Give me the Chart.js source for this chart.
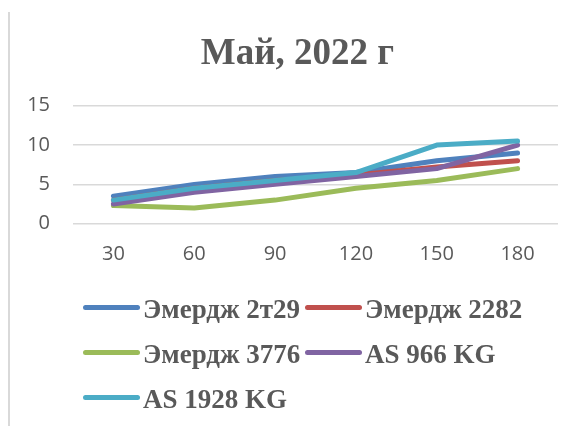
<!DOCTYPE html>
<html>
<head>
<meta charset="utf-8">
<script src="https://cdn.jsdelivr.net/npm/chart.js@4/dist/chart.umd.min.js"></script>
<style>
  html, body { margin: 0; padding: 0; background: #ffffff; }
  #wrap { position: relative; width: 581px; height: 426px; overflow: hidden; }
  #frame { position: absolute; left: 8px; top: 12px; bottom: 0; width: 2px; background: #d9d9d9; }
  canvas { position: absolute; left: 0; top: 0; }
  #title { position: absolute; left: 197.5px; top: 33.3px; width: 200px; text-align: center;
           white-space: nowrap; font-family: "Liberation Serif", "Times New Roman", serif;
           font-weight: bold; font-size: 37px; line-height: 37px; color: #595959; }
  #legend { position: absolute; left: 83px; top: 285px; width: 490px;
            font-family: "Liberation Serif", "Times New Roman", serif; font-weight: bold;
            font-size: 27px; color: #595959; }
  .row { display: flex; align-items: center; height: 45px; }
  .item { display: flex; align-items: center; white-space: nowrap; }
  .item.c1 { width: 222px; }
  .swatch { width: 57px; height: 5px; border-radius: 3px; margin-right: 3px; }
  .label { line-height: 30px; position: relative; top: 1px; }
</style>
</head>
<body>
<div id="wrap">
  <div id="frame"></div>
  <canvas id="chart" width="581" height="426"></canvas>
  <div id="title"></div>
  <div id="legend"></div>
</div>
<script>
// Days after sowing
const categories = ['30', '60', '90', '120', '150', '180'];

// Measured values per variety
const emerdzh2t29 = [3.5, 5, 6, 6.5, 8, 9];
const emerdzh2282 = [3, 4.5, 5.5, 6.2, 7.2, 8];
const emerdzh3776 = [2.3, 2, 3, 4.5, 5.5, 7];
const as966kg     = [2.5, 4, 5, 6, 7, 10];
const as1928kg    = [3, 4.5, 5.5, 6.5, 10, 10.5];

const seriesNames = ['Эмердж 2т29', 'Эмердж 2282', 'Эмердж 3776', 'AS 966 KG', 'AS 1928 KG'];
const seriesValues = [emerdzh2t29, emerdzh2282, emerdzh3776, as966kg, as1928kg];

// Axis ticks
const yTicks = [0, 5, 10, 15];

const chartTitle = 'Май, 2022 г';

const palette = ['#4F81BD', '#C0504D', '#9BBB59', '#8064A2', '#4BACC6'];

const datasets = seriesNames.map((name, i) => ({
  label: name,
  data: seriesValues[i],
  borderColor: palette[i],
  backgroundColor: palette[i],
  borderWidth: 5,
  borderCapStyle: 'round',
  borderJoinStyle: 'round',
  pointRadius: 0,
  pointHoverRadius: 0,
  tension: 0,
  fill: false,
  // later series are painted over earlier ones
  order: seriesNames.length - i
}));

const tickFont = { family: '"Open Sans", "Liberation Sans", sans-serif', size: 20 };

const chart = new Chart(document.getElementById('chart'), {
  type: 'line',
  data: { labels: categories, datasets },
  options: {
    responsive: false,
    animation: false,
    layout: { padding: { left: 0, right: 23, top: 105.7, bottom: 157.3 } },
    plugins: {
      legend: { display: false },
      tooltip: { enabled: false },
      title: { display: false }
    },
    scales: {
      x: {
        offset: true,
        grid: { display: false, drawTicks: false },
        border: { display: false },
        ticks: { color: '#595959', font: tickFont, padding: 19, maxRotation: 0 },
        afterFit: (scale) => { scale.height = 45; }
      },
      y: {
        min: 0,
        max: 15,
        afterBuildTicks: (scale) => { scale.ticks = yTicks.map(v => ({ value: v })); },
        grid: { color: '#d9d9d9', lineWidth: 1.5, drawTicks: false },
        border: { display: false },
        ticks: { color: '#595959', font: tickFont, padding: 23 },
        afterFit: (scale) => { scale.width = 73; }
      }
    }
  }
});

document.getElementById('title').textContent = chartTitle;

// Legend laid out in two columns, rows filled left to right
const legendEl = document.getElementById('legend');
for (let r = 0; r < Math.ceil(seriesNames.length / 2); r++) {
  const row = document.createElement('div');
  row.className = 'row';
  for (let c = 0; c < 2; c++) {
    const i = r * 2 + c;
    if (i >= seriesNames.length) break;
    const item = document.createElement('div');
    item.className = 'item' + (c === 0 ? ' c1' : '');
    const sw = document.createElement('span');
    sw.className = 'swatch';
    sw.style.background = chart.data.datasets[i].borderColor;
    const lb = document.createElement('span');
    lb.className = 'label';
    lb.textContent = chart.data.datasets[i].label;
    item.appendChild(sw);
    item.appendChild(lb);
    row.appendChild(item);
  }
  legendEl.appendChild(row);
}
</script>
</body>
</html>
